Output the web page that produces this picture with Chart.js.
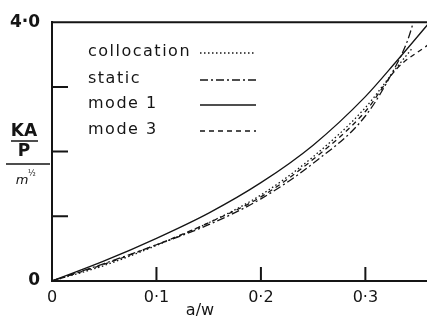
<!DOCTYPE html>
<html>
<head>
<meta charset="utf-8">
<script src="https://cdn.jsdelivr.net/npm/chart.js@4"></script>
<style>
  html, body { margin: 0; padding: 0; background: #fff; }
  #wrap { width: 427px; height: 321px; position: relative; }
</style>
</head>
<body>
<div id="wrap"><canvas id="kChart"></canvas></div>
<script>
// values (a/w against KA/P)
const mode1X = [0, 0.05, 0.1, 0.15, 0.2, 0.25, 0.3, 0.33, 0.36];
const mode1Y = [0, 0.31, 0.66, 1.05, 1.52, 2.1, 2.85, 3.4, 3.97];
const collocX = [0, 0.05, 0.1, 0.15, 0.2, 0.25, 0.3, 0.33, 0.345];
const collocY = [0, 0.24, 0.55, 0.9, 1.33, 1.92, 2.68, 3.3, 3.6];
const staticX = [0, 0.05, 0.1, 0.15, 0.2, 0.25, 0.3, 0.33, 0.34, 0.346];
const staticY = [0, 0.27, 0.56, 0.87, 1.27, 1.82, 2.55, 3.35, 3.7, 4.0];
const mode3X = [0, 0.05, 0.1, 0.15, 0.2, 0.25, 0.3, 0.33, 0.36];
const mode3Y = [0, 0.26, 0.56, 0.9, 1.3, 1.88, 2.62, 3.28, 3.65];

const xTicks = [0, 0.1, 0.2, 0.3];
const xTickLabels = ['0', '0·1', '0·2', '0·3'];
const yTicks = [0, 1, 2, 3, 4];
const yTickLabels = ['0', '', '', '', '4·0'];
const seriesNames = ['collocation', 'static', 'mode 1', 'mode 3'];

const INK = '#151515';
const FONT = 'DejaVu Sans';

const pts = (xs, ys) => xs.map((x, i) => ({ x: x, y: ys[i] }));

function lineSet(label, xs, ys, dash, width) {
  return {
    label: label,
    data: pts(xs, ys),
    borderColor: INK,
    borderWidth: width,
    borderDash: dash,
    pointRadius: 0,
    fill: false,
    cubicInterpolationMode: 'monotone'
  };
}

// inward ticks, top frame, legend and axis titles
const decor = {
  id: 'decor',
  afterDraw(chart) {
    const ctx = chart.ctx;
    const area = chart.chartArea;
    const xs = chart.scales.x, ys = chart.scales.y;
    ctx.save();
    ctx.strokeStyle = INK;
    ctx.lineWidth = 2;
    ctx.beginPath();
    ctx.moveTo(area.left, area.top);
    ctx.lineTo(area.right, area.top);
    xTicks.forEach(v => {
      if (v === 0) return;
      const px = xs.getPixelForValue(v);
      ctx.moveTo(px, area.bottom);
      ctx.lineTo(px, area.bottom - 14);
    });
    yTicks.forEach(v => {
      if (v === 0 || v === 4) return;
      const py = ys.getPixelForValue(v);
      ctx.moveTo(area.left, py);
      ctx.lineTo(area.left + 16, py);
    });
    ctx.stroke();

    // legend: text then line sample
    ctx.fillStyle = INK;
    ctx.font = '16px "' + FONT + '"';
    ctx.letterSpacing = '1.5px';
    ctx.textBaseline = 'middle';
    ctx.textAlign = 'left';
    const rows = [52, 79, 104, 130];
    chart.data.datasets.forEach((ds, i) => {
      ctx.fillText(ds.label, 88, rows[i]);
      ctx.beginPath();
      ctx.setLineDash(ds.borderDash || []);
      ctx.lineWidth = ds.borderWidth;
      ctx.moveTo(200, rows[i] + 1);
      ctx.lineTo(256, rows[i] + 1);
      ctx.stroke();
    });
    ctx.setLineDash([]);
    ctx.letterSpacing = '0px';

    // y title KA/P over m^1/2
    ctx.textAlign = 'center';
    ctx.font = 'bold 17px "' + FONT + '"';
    ctx.fillText('KA', 24, 132);
    ctx.fillText('P', 24, 152);
    ctx.lineWidth = 1.5;
    ctx.beginPath();
    ctx.moveTo(11, 141); ctx.lineTo(38, 141);
    ctx.moveTo(6, 164); ctx.lineTo(50, 164);
    ctx.stroke();
    ctx.font = 'italic 13px "' + FONT + '"';
    ctx.fillText('m', 22, 181);
    ctx.font = '8px "' + FONT + '"';
    ctx.fillText('½', 32, 174);

    // x title
    ctx.font = '16px "' + FONT + '"';
    ctx.fillText('a/w', 200, 311);
    ctx.restore();
  }
};

new Chart(document.getElementById('kChart').getContext('2d'), {
  type: 'line',
  data: {
    datasets: [
      lineSet(seriesNames[0], collocX, collocY, [1.5, 2.5], 1.3),
      lineSet(seriesNames[1], staticX, staticY, [8, 3, 2, 3], 1.3),
      lineSet(seriesNames[2], mode1X, mode1Y, [], 1.3),
      lineSet(seriesNames[3], mode3X, mode3Y, [5, 4], 1.3)
    ]
  },
  options: {
    responsive: true,
    maintainAspectRatio: false,
    animation: false,
    layout: { padding: { top: 19, right: 0, left: 0, bottom: 0 } },
    plugins: { legend: { display: false }, tooltip: { enabled: false } },
    scales: {
      x: {
        type: 'linear',
        min: 0,
        max: 0.359,
        afterBuildTicks: s => { s.ticks = xTicks.map(v => ({ value: v })); },
        afterFit: s => { s.height = 40; },
        grid: { display: false, drawTicks: false },
        border: { display: true, color: INK, width: 2 },
        ticks: {
          padding: 7,
          color: INK,
          font: { family: FONT, size: 16 },
          maxRotation: 0,
          callback: v => xTickLabels[xTicks.indexOf(v)]
        }
      },
      y: {
        type: 'linear',
        min: 0,
        max: 4,
        afterBuildTicks: s => { s.ticks = yTicks.map(v => ({ value: v })); },
        afterFit: s => { s.width = 52; },
        grid: { display: false, drawTicks: false },
        border: { display: true, color: INK, width: 2 },
        ticks: {
          padding: 12,
          color: INK,
          font: { family: FONT, size: 17, weight: 'bold' },
          callback: v => yTickLabels[yTicks.indexOf(v)]
        }
      }
    }
  },
  plugins: [decor]
});
</script>
</body>
</html>
